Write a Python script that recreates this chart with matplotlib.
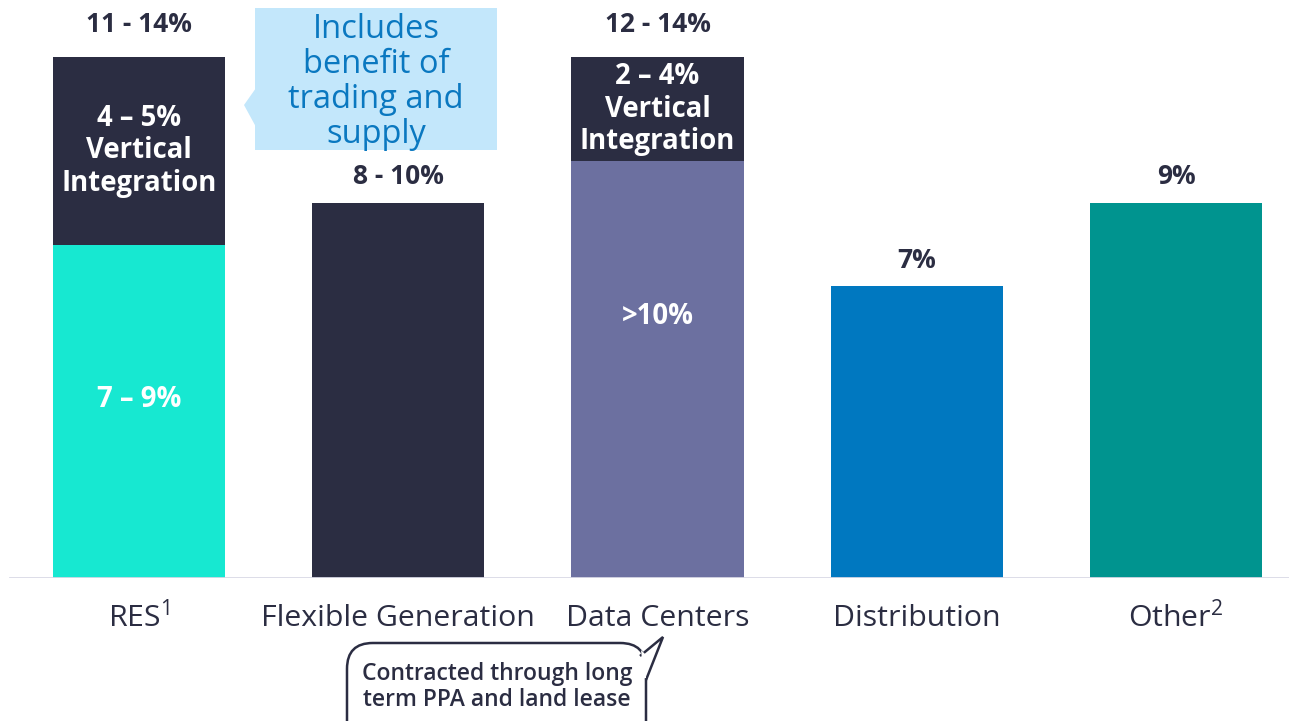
import matplotlib.pyplot as plt
from matplotlib.patches import Rectangle, Polygon, FancyBboxPatch

plt.rcParams['font.family'] = ['Open Sans', 'DejaVu Sans']
plt.rcParams['mathtext.fontset'] = 'custom'
plt.rcParams['mathtext.rm'] = 'Open Sans'

categories = ['RES$^{1}$', 'Flexible Generation', 'Data Centers', 'Distribution', 'Other$^{2}$']
base = [8.0, 9.0, 10.0, 7.0, 9.0]
vertical = [4.5, 0, 2.5, 0, 0]
base_colors = ['#17E8D1', '#2B2D42', '#6C70A0', '#0078C0', '#00948F']
top_color = '#2B2D42'
total_labels = ['11 - 14%', '8 - 10%', '12 - 14%', '7%', '9%']
base_labels = ['7 – 9%', '', '>10%', '', '']
vertical_labels = ['4 – 5%\nVertical\nIntegration', '', '2 – 4%\nVertical\nIntegration', '', '']

W, H = 1289, 721
def fx(x):
    return x / W
def fy(y):
    return 1 - y / H

fig = plt.figure(figsize=(W / 100, H / 100), dpi=100)
ax = fig.add_axes([0, fy(578), 1, 1 - fy(578)])
ax.set_xlim(-0.536, 4.436)
ax.set_ylim(0, 578 / 41.67)
ax.axis('off')

x = list(range(len(categories)))
ax.bar(x, base, width=0.665, color=base_colors, zorder=2)
ax.bar(x, vertical, bottom=base, width=0.665, color=top_color, zorder=2)
ax.axhline(0, xmin=10 / W, xmax=1, color='#D9D9E6', lw=2, zorder=3)

dark = '#2B2D42'
for i in x:
    top = base[i] + vertical[i]
    off = 33 if vertical[i] else 26
    ax.annotate(total_labels[i], (i, top), xytext=(0, off * 0.72), textcoords='offset points',
                ha='center', va='center', fontsize=19, fontweight='bold', color=dark)
    if vertical[i]:
        ax.text(i, base[i] + vertical[i] / 2, vertical_labels[i], ha='center', va='center',
                fontsize=19.8, fontweight='bold', color='white', linespacing=1.16)
        ax.annotate(base_labels[i], (i, base[i]), xytext=(0, -155 * 0.72), textcoords='offset points',
                    ha='center', va='center', fontsize=19.8, fontweight='bold', color='white')
    ax.annotate(categories[i], (i, 0), xytext=(0, -40 * 0.72), textcoords='offset points',
                ha='center', va='center', fontsize=21.8, color=dark, annotation_clip=False)

# top callout
blue_bg = '#C3E7FB'
fig.patches.append(Rectangle((fx(255), fy(150)), fx(497) - fx(255), fy(8) - fy(150),
                             transform=fig.transFigure, facecolor=blue_bg, edgecolor='none'))
fig.patches.append(Polygon([(fx(256), fy(88)), (fx(244), fy(105)), (fx(256), fy(127))],
                           closed=True, transform=fig.transFigure, facecolor=blue_bg, edgecolor='none'))
fig.text(fx(376), fy(82), 'Includes\nbenefit of\ntrading and\nsupply', ha='center', va='center',
         fontsize=23.5, color='#0A78C0', linespacing=1.08)

# bottom callout
fig.patches.append(FancyBboxPatch((fx(347), fy(760)), fx(646) - fx(347), fy(643) - fy(760),
                                  boxstyle='round,pad=0,rounding_size=0.02', mutation_aspect=W / H,
                                  transform=fig.transFigure, facecolor='white', edgecolor=dark, lw=1.8))
verts = [(fx(640), fy(656)), (fx(663), fy(637)), (fx(646), fy(680))]
fig.patches.append(Polygon(verts, closed=False, transform=fig.transFigure, facecolor='white',
                           edgecolor=dark, lw=1.8, zorder=5))
fig.patches.append(Polygon([(fx(641), fy(650)), (fx(645), fy(654)), (fx(646), fy(678)), (fx(644), fy(678))],
                           closed=True, transform=fig.transFigure, facecolor='white', edgecolor='none', zorder=6))
fig.text(fx(497), fy(687), 'Contracted through long\nterm PPA and land lease', ha='center', va='center',
         fontsize=16.5, color=dark, fontweight='semibold', linespacing=1.08)

fig.savefig('out.png', dpi=100)
